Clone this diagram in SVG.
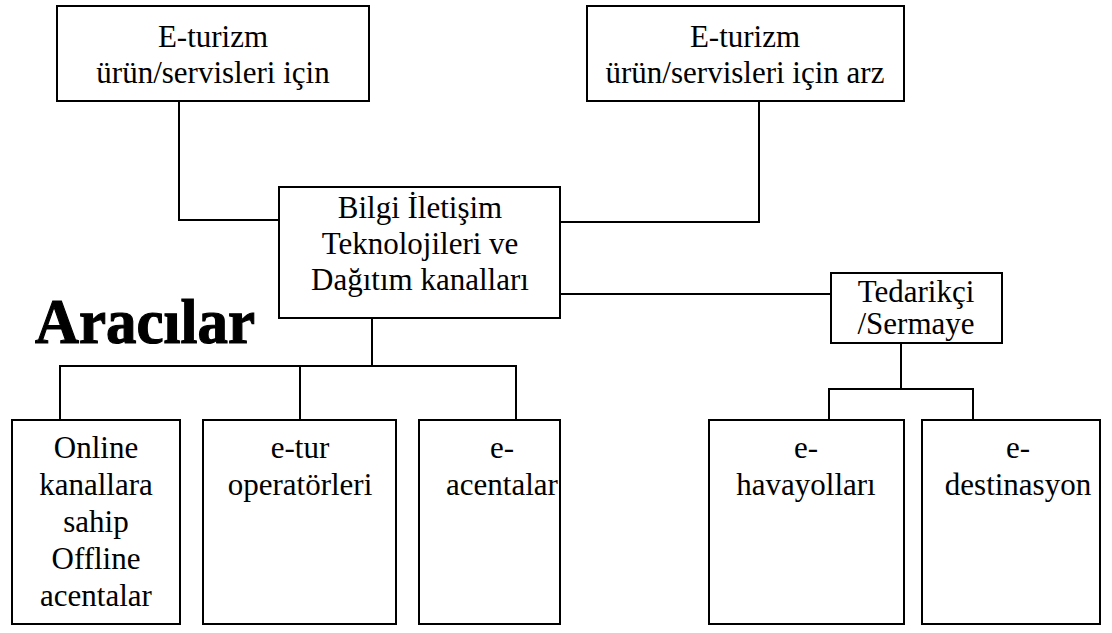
<svg xmlns="http://www.w3.org/2000/svg" width="1112" height="633" viewBox="0 0 1112 633">
<style>
.box{fill:#fff;stroke:#000;stroke-width:2}
.ln{fill:none;stroke:#000;stroke-width:2}
.t{font-family:"Liberation Serif","Times New Roman",serif;font-size:31px;fill:#000;text-anchor:middle}
.big{font-family:"Liberation Serif","Times New Roman",serif;font-size:64px;font-weight:bold;fill:#000;stroke:#000;stroke-width:1.2}
</style>
<rect width="1112" height="633" fill="#fff"/>
<g id="connectors">
<polyline class="ln" points="179,101 179,220 279,220"/>
<polyline class="ln" points="759,101 759,222 560,222"/>
<line class="ln" x1="560" y1="294" x2="831" y2="294"/>
<line class="ln" x1="372" y1="318" x2="372" y2="366"/>
<polyline class="ln" points="60,420 60,366 516,366 516,420"/>
<line class="ln" x1="300" y1="366" x2="300" y2="420"/>
<line class="ln" x1="901" y1="343" x2="901" y2="389"/>
<polyline class="ln" points="829,420 829,389 973,389 973,420"/>
</g>
<g id="n-demand">
<rect class="box" x="57" y="6" width="312" height="95"/>
<text class="t" x="213" y="47">E-turizm</text>
<text class="t" x="213" y="83">ürün/servisleri için</text>
</g>
<g id="n-supply">
<rect class="box" x="587" y="6" width="317" height="95"/>
<text class="t" x="745" y="47">E-turizm</text>
<text class="t" x="745" y="83">ürün/servisleri için arz</text>
</g>
<g id="n-ict">
<rect class="box" x="279" y="187" width="281" height="131"/>
<text class="t" x="420" y="218">Bilgi İletişim</text>
<text class="t" x="420" y="254">Teknolojileri ve</text>
<text class="t" x="420" y="290">Dağıtım kanalları</text>
</g>
<g id="n-supplier">
<rect class="box" x="831" y="273" width="171" height="70"/>
<text class="t" x="916" y="302">Tedarikçi</text>
<text class="t" x="916" y="334">/Sermaye</text>
</g>
<g id="label-aracilar">
<text class="big" x="35" y="343" textLength="220" lengthAdjust="spacingAndGlyphs">Aracılar</text>
</g>
<g id="n-offline">
<rect class="box" x="12" y="420" width="168" height="204"/>
<text class="t" x="96" y="458">Online</text>
<text class="t" x="96" y="495">kanallara</text>
<text class="t" x="96" y="532">sahip</text>
<text class="t" x="96" y="569">Offline</text>
<text class="t" x="96" y="606">acentalar</text>
</g>
<g id="n-etur">
<rect class="box" x="203" y="420" width="193" height="204"/>
<text class="t" x="300" y="458">e-tur</text>
<text class="t" x="300" y="495">operatörleri</text>
</g>
<g id="n-eacenta">
<rect class="box" x="419" y="420" width="141" height="204"/>
<text class="t" x="502" y="458">e-</text>
<text class="t" x="502" y="495">acentalar</text>
</g>
<g id="n-ehava">
<rect class="box" x="709" y="420" width="195" height="204"/>
<text class="t" x="806" y="458">e-</text>
<text class="t" x="806" y="495">havayolları</text>
</g>
<g id="n-edest">
<rect class="box" x="922" y="420" width="178" height="204"/>
<text class="t" x="1018" y="458">e-</text>
<text class="t" x="1018" y="495">destinasyon</text>
</g>
</svg>
